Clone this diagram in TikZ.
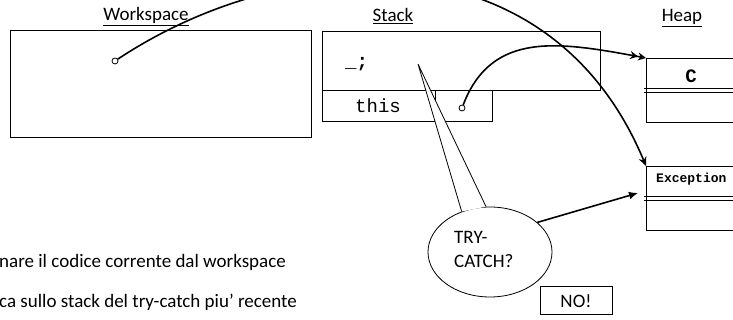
\documentclass[tikz,border=0pt]{standalone}
\usepackage{fontspec}
\setmainfont{Carlito}
\newfontfamily\monofont{Liberation Mono}
\usepackage{tikz}
\usetikzlibrary{arrows.meta, shapes.geometric}

\begin{document}
\begin{tikzpicture}[x=1pt, y=1pt,
  box/.style={draw, line width=0.9pt, inner sep=0pt, anchor=south west},
  txt/.style={inner sep=0pt, font=\fontsize{19}{22}\selectfont},
  code/.style={inner sep=0pt, font=\monofont\fontsize{19}{22}\selectfont},
  ref/.style={draw, circle, fill=white, line width=0.8pt, inner sep=0pt, minimum size=6pt},
  link/.style={line width=1.6pt},
  split/.style={line width=0.9pt}]

\useasboundingbox (0,0) rectangle (733,320);

% --- Titles ---
\node[txt, anchor=base] (wstitle) at (146,299) {\underline{Workspace}};
\node[txt, anchor=base] (sttitle) at (393,298) {\underline{Stack}};
\node[txt, anchor=base] (hptitle) at (682,298) {\underline{Heap}};

% --- Workspace ---
\node[box, minimum width=301pt, minimum height=107pt] (ws) at (10,182) {};
\node[ref] (wsref) at (115,259) {};

% --- Stack frames ---
\node[box, minimum width=278pt, minimum height=59pt] (frame) at (322,229) {};
\node[code, font=\monofont\bfseries\fontsize{19}{22}\selectfont, anchor=base west] (under) at (345,252) {\_;};
\node[box, minimum width=113pt, minimum height=31pt] (thisname) at (322,198) {};
\node[box, minimum width=57pt, minimum height=31pt] (thisval) at (435,198) {};
\node[code, anchor=base] (thistxt) at (378,207) {this};
\node[ref] (thisref) at (462,212) {};

% --- Heap objects ---
\node[box, anchor=north west, minimum width=100pt, minimum height=64pt] (cobj) at (646,262) {};
\draw[split] ([xshift=-2pt, yshift=1.6pt]cobj.west) -- ++(102,0);
\draw[split] ([xshift=-2pt, yshift=-1.6pt]cobj.west) -- ++(102,0);
\node[code, font=\monofont\bfseries\fontsize{19}{22}\selectfont, anchor=base] (ctxt) at (691,237) {C};

\node[box, anchor=north west, minimum width=100pt, minimum height=64pt] (exobj) at (646,154) {};
\draw[split] ([xshift=-2pt, yshift=1.6pt]exobj.west) -- ++(102,0);
\draw[split] ([xshift=-2pt, yshift=-1.6pt]exobj.west) -- ++(102,0);
\node[code, font=\monofont\bfseries\fontsize{13}{15}\selectfont, anchor=base west] (extxt) at (656,137) {Exception};

% --- References ---
\draw[link, -{Stealth[open, length=8pt, width=8pt]Stealth[open, length=8pt, width=8pt]}]
  (thisref) .. controls (492,290) and (560,278) .. (cobj.north west);
\draw[link, -{Stealth[open, length=9pt, width=8pt]}]
  (wsref) .. controls (290,375) and (550,385) .. (exobj.north west);

% --- Callout ---
\node[draw, ellipse, fill=white, line width=0.8pt, minimum width=124pt, minimum height=90pt] (bubble) at (490,68) {};
\coordinate (tip) at (418,256);
\fill[white] (bubble.125) -- (tip) -- (bubble.95) -- cycle;
\draw[line width=0.8pt] (bubble.95) -- (tip) -- (bubble.125);
\node[txt, anchor=base west] (try) at (454,76) {TRY-};
\node[txt, anchor=base west] (catch) at (454,52) {CATCH?};
\draw[link, -{Latex[length=9pt, width=8pt]}] (bubble.32) -- (638,127);

\node[draw, line width=0.8pt, minimum width=72pt, minimum height=28pt, inner sep=0pt, anchor=south west] (no) at (540,5) {};
\node[txt, anchor=base] (notxt) at (576,12) {NO!};

% --- Notes ---
\node[txt, anchor=base west] (note1) at (-1,52) {nare il codice corrente dal workspace};
\node[txt, anchor=base west] (note2) at (-1,12) {ca sullo stack del try-catch piu’ recente};
\end{tikzpicture}
\end{document}
